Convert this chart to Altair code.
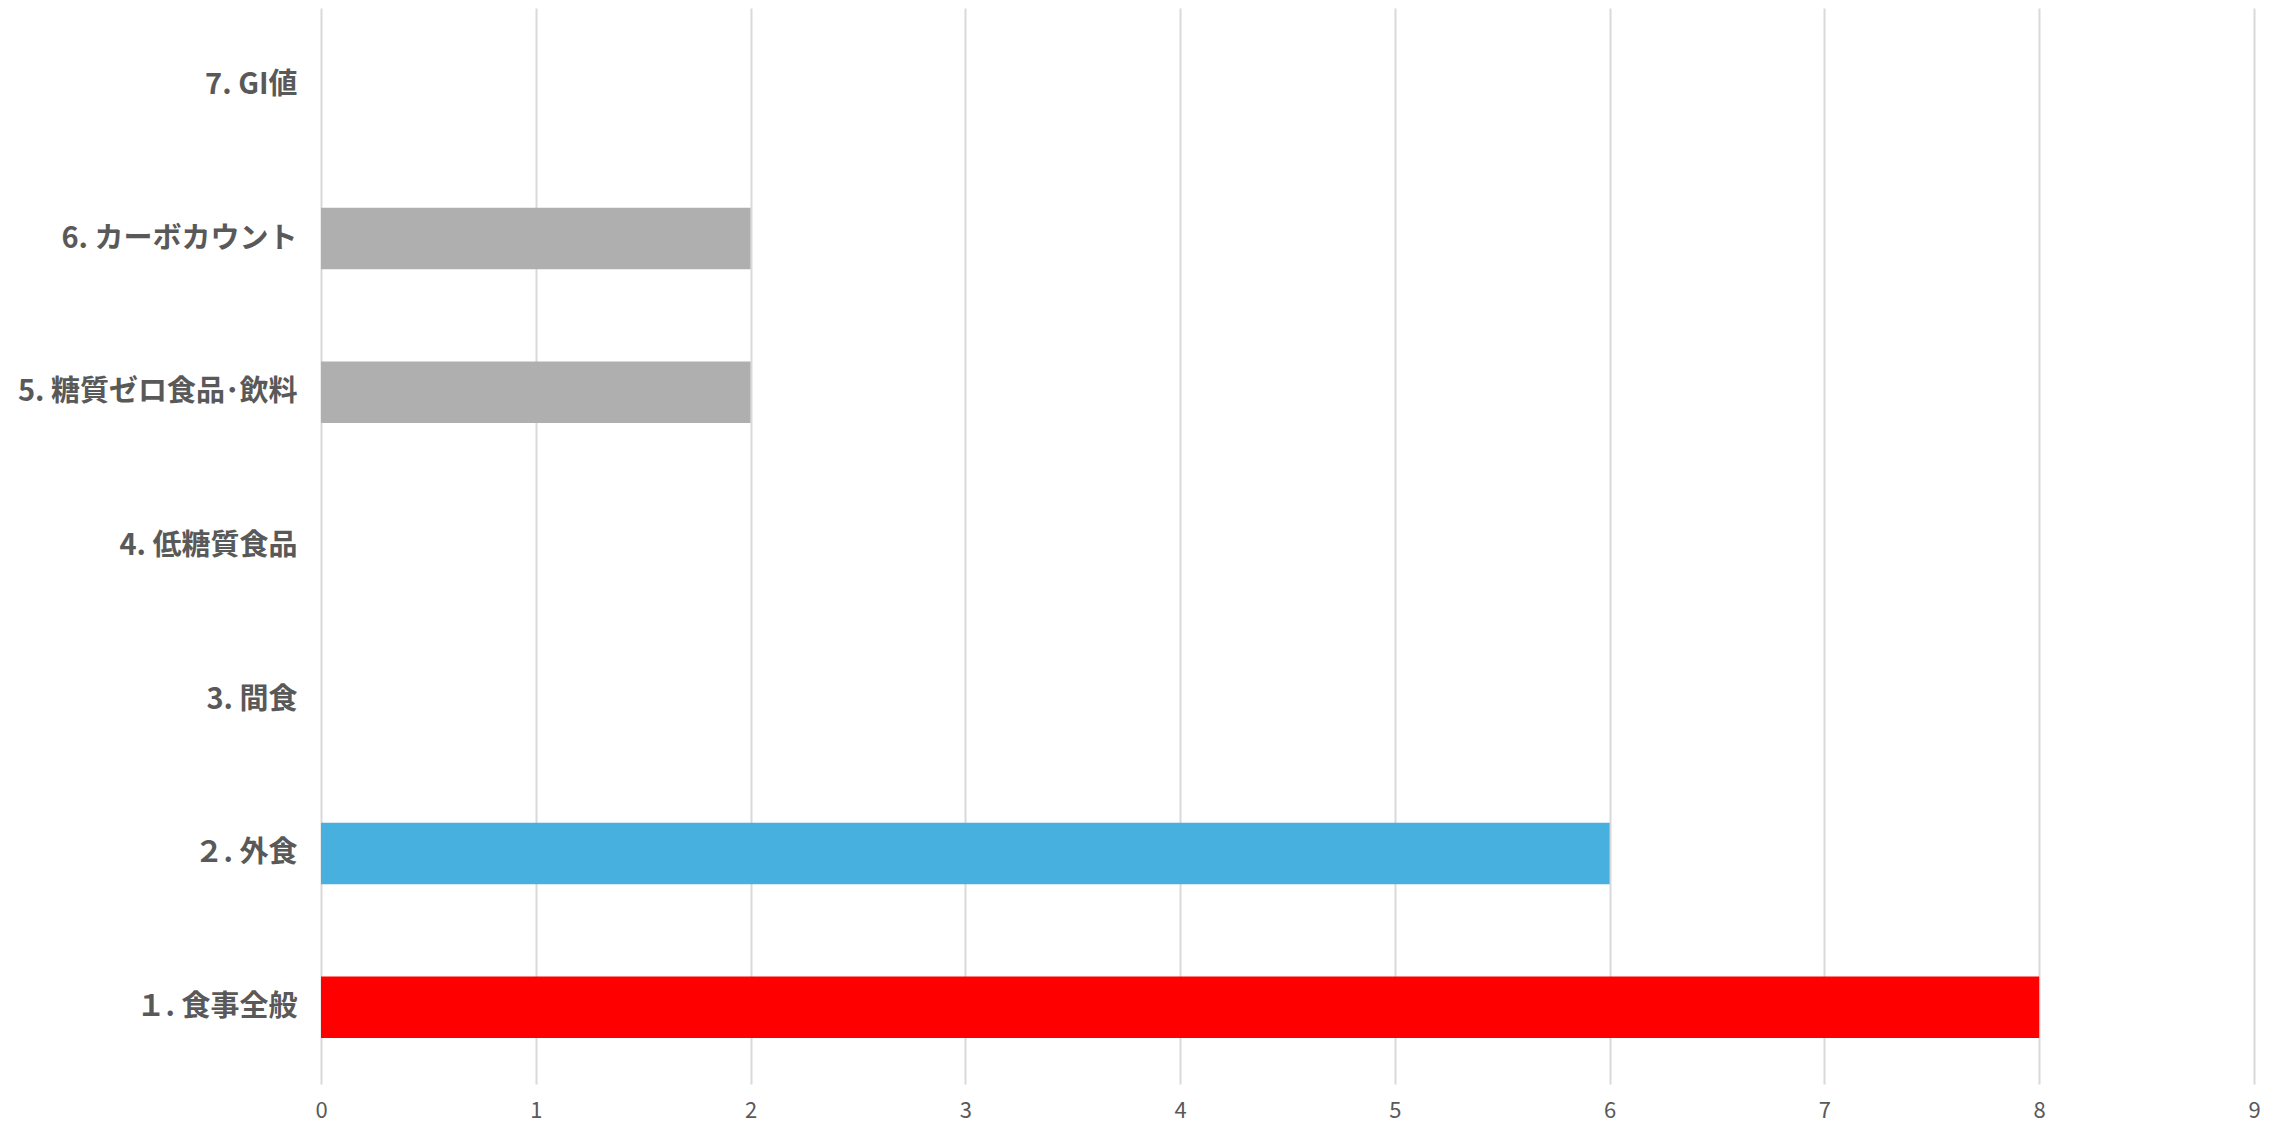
import altair as alt
import pandas as pd

categories = ["１. 食事全般", "２. 外食", "3. 間食", "4. 低糖質食品",
              "5. 糖質ゼロ食品･飲料", "6. カーボカウント", "7. GI値"]
values = [8, 6, 0, 0, 2, 2, 0]
palette = ["#FF0000", "#47B0DF", "#AFAFAF", "#AFAFAF", "#AFAFAF", "#AFAFAF", "#AFAFAF"]
x_ticks = [0, 1, 2, 3, 4, 5, 6, 7, 8, 9]

df = pd.DataFrame({"category": categories, "value": values})

order = list(reversed(categories))

chart = alt.Chart(df).mark_bar().encode(
    y=alt.Y("category:N", sort=order, title=None,
            scale=alt.Scale(paddingInner=0.6, paddingOuter=0.3),
            axis=alt.Axis(domain=False, ticks=False, labelFontSize=29,
                          labelFontWeight="bold", labelColor="#595959",
                          labelFont="Noto Sans CJK JP", labelPadding=24,
                          labelLimit=400)),
    x=alt.X("value:Q", title=None,
            scale=alt.Scale(domain=[0, 9], nice=False),
            axis=alt.Axis(values=x_ticks, domain=False, ticks=False, grid=True,
                          gridColor="#D9D9D9", gridWidth=2,
                          labelFontSize=22, labelColor="#595959",
                          labelFont="Noto Sans CJK JP", labelFontWeight="normal",
                          labelPadding=16, labelFlush=False)),
    color=alt.Color("category:N", scale=alt.Scale(domain=categories, range=palette),
                    legend=None),
).properties(
    width=1933,
    height=1076,
    autosize=alt.AutoSizeParams(type="none"),
    padding={"left": 313, "top": 0, "right": 20, "bottom": 40},
).configure_view(stroke=None)

chart.save("out.html", embed_options={"renderer": "svg", "actions": False})
